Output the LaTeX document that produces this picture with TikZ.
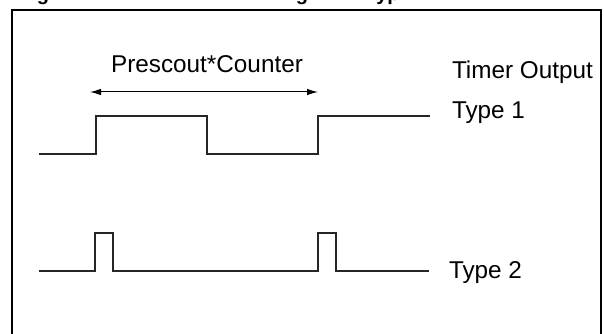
\documentclass[tikz,border=0pt]{standalone}
\usepackage{fontspec}
\setmainfont{Liberation Sans}
\usetikzlibrary{arrows.meta}
\tikzset{
  lbl/.style={inner sep=0pt, outer sep=0pt, font=\fontsize{24.3}{28}\selectfont, text=black},
  ttl/.style={inner sep=0pt, outer sep=0pt, font=\fontsize{20}{24}\selectfont\bfseries, text=black},
  frame/.style={line width=2.2pt, black},
  wave/.style={line width=1.2pt, black!85, line join=miter},
  span/.style={line width=1pt, black, {Latex[length=11pt,width=6.5pt]}-{Latex[length=11pt,width=6.5pt]}}
}
\begin{document}
\begin{tikzpicture}[x=1pt,y=-1pt]
\useasboundingbox (0,0) rectangle (604,334);
\clip (0,0) rectangle (604,334);
% title fragments (cut off at the top)
\node[ttl, anchor=base] (t1) at (43,0.2) {g};
\node[ttl, anchor=base] (t2) at (302,0.2) {g};
\node[ttl, anchor=base] (t3) at (388,0.2) {yp};
% frame, open at the bottom
\draw[frame] (12,340) -- (12,10) -- (601,10) -- (601,340);
% labels
\node[lbl, anchor=base] (pc) at (207,73) {Prescout*Counter};
\node[lbl, anchor=base west] (to) at (452,79) {Timer Output};
\node[lbl, anchor=base west] (ty1) at (452,118) {Type 1};
\node[lbl, anchor=base west] (ty2) at (449,278) {Type 2};
% span arrow
\coordinate (aL) at (90,92);
\coordinate (aR) at (318,92);
\draw[span] (aL) -- (aR);
% type 1 waveform
\draw[wave] (39,154) -- (96,154) -- (96,116) -- (207,116) -- (207,154) -- (318,154) -- (318,116) -- (430,116);
% type 2 waveform
\draw[wave] (39,271) -- (95,271) -- (95,233) -- (113,233) -- (113,271) -- (318,271) -- (318,233) -- (336,233) -- (336,271) -- (429,271);
\end{tikzpicture}
\end{document}
